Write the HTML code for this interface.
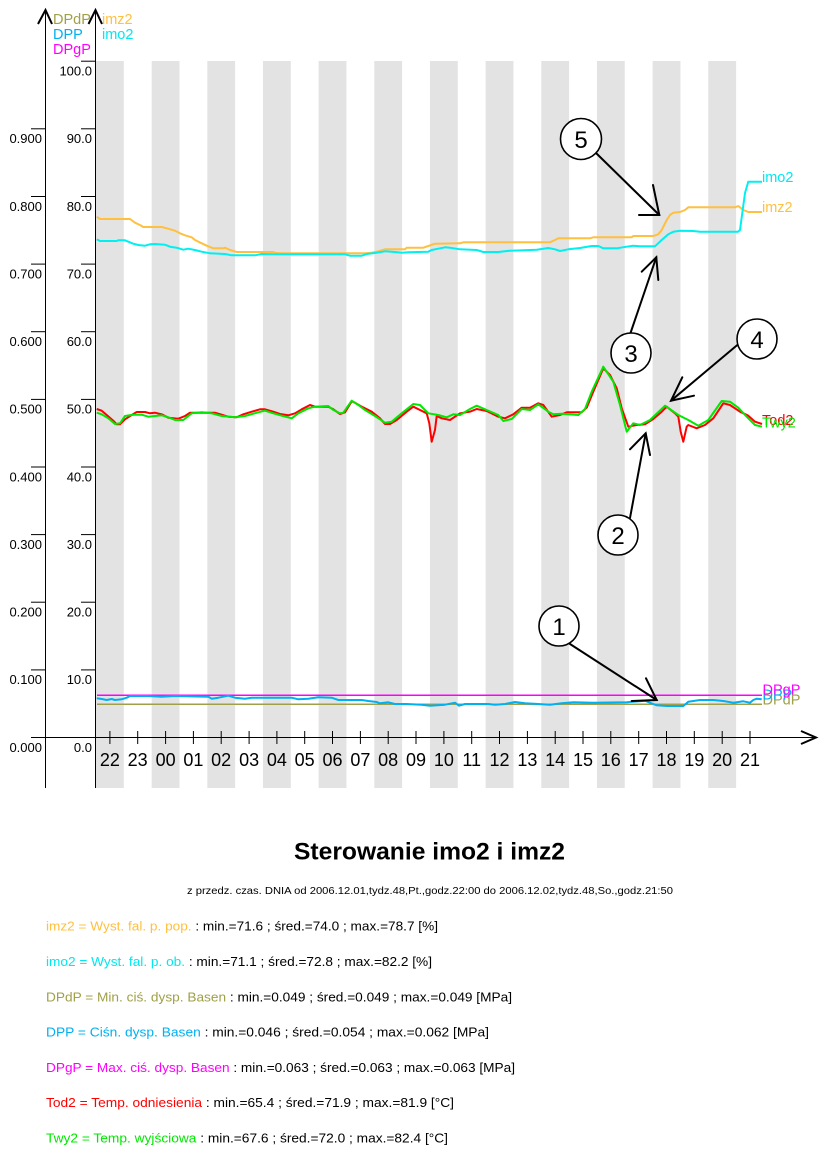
<!DOCTYPE html>
<html>
<head>
<meta charset="utf-8">
<style>
html,body{margin:0;padding:0;background:#fff;}
svg{display:block;}
text{font-family:"Liberation Sans",Arial,sans-serif;}
</style>
</head>
<body>
<svg width="826" height="1156" viewBox="0 0 826 1156" xmlns="http://www.w3.org/2000/svg">
<rect x="0" y="0" width="826" height="1156" fill="#fff"/>
<!-- stripes -->
<g fill="#e3e3e3">
<rect x="96" y="61" width="27.83" height="727"/>
<rect x="151.66" y="61" width="27.83" height="727"/>
<rect x="207.32" y="61" width="27.83" height="727"/>
<rect x="262.98" y="61" width="27.83" height="727"/>
<rect x="318.64" y="61" width="27.83" height="727"/>
<rect x="374.3" y="61" width="27.83" height="727"/>
<rect x="429.96" y="61" width="27.83" height="727"/>
<rect x="485.62" y="61" width="27.83" height="727"/>
<rect x="541.28" y="61" width="27.83" height="727"/>
<rect x="596.94" y="61" width="27.83" height="727"/>
<rect x="652.6" y="61" width="27.83" height="727"/>
<rect x="708.26" y="61" width="27.83" height="727"/>
</g>

<!-- axes -->
<g stroke="#000" stroke-width="1" fill="none">
<line x1="45.5" y1="10" x2="45.5" y2="788"/>
<line x1="95.5" y1="10" x2="95.5" y2="788"/>
<line x1="31" y1="737.5" x2="815" y2="737.5"/>
<!-- y ticks axis1 -->
<line x1="31" y1="669.9" x2="45" y2="669.9"/>
<line x1="31" y1="602.2" x2="45" y2="602.2"/>
<line x1="31" y1="534.6" x2="45" y2="534.6"/>
<line x1="31" y1="467" x2="45" y2="467"/>
<line x1="31" y1="399.4" x2="45" y2="399.4"/>
<line x1="31" y1="331.7" x2="45" y2="331.7"/>
<line x1="31" y1="264.1" x2="45" y2="264.1"/>
<line x1="31" y1="196.5" x2="45" y2="196.5"/>
<line x1="31" y1="128.8" x2="45" y2="128.8"/>
<!-- y ticks axis2 -->
<line x1="81" y1="669.9" x2="95" y2="669.9"/>
<line x1="81" y1="602.2" x2="95" y2="602.2"/>
<line x1="81" y1="534.6" x2="95" y2="534.6"/>
<line x1="81" y1="467" x2="95" y2="467"/>
<line x1="81" y1="399.4" x2="95" y2="399.4"/>
<line x1="81" y1="331.7" x2="95" y2="331.7"/>
<line x1="81" y1="264.1" x2="95" y2="264.1"/>
<line x1="81" y1="196.5" x2="95" y2="196.5"/>
<line x1="81" y1="128.8" x2="95" y2="128.8"/>
<line x1="81" y1="61.2" x2="95" y2="61.2"/>
<!-- x ticks -->
<line x1="109.9" y1="731" x2="109.9" y2="744"/>
<line x1="137.7" y1="731" x2="137.7" y2="744"/>
<line x1="165.6" y1="731" x2="165.6" y2="744"/>
<line x1="193.4" y1="731" x2="193.4" y2="744"/>
<line x1="221.2" y1="731" x2="221.2" y2="744"/>
<line x1="249.1" y1="731" x2="249.1" y2="744"/>
<line x1="276.9" y1="731" x2="276.9" y2="744"/>
<line x1="304.7" y1="731" x2="304.7" y2="744"/>
<line x1="332.5" y1="731" x2="332.5" y2="744"/>
<line x1="360.4" y1="731" x2="360.4" y2="744"/>
<line x1="388.2" y1="731" x2="388.2" y2="744"/>
<line x1="416" y1="731" x2="416" y2="744"/>
<line x1="443.9" y1="731" x2="443.9" y2="744"/>
<line x1="471.7" y1="731" x2="471.7" y2="744"/>
<line x1="499.5" y1="731" x2="499.5" y2="744"/>
<line x1="527.4" y1="731" x2="527.4" y2="744"/>
<line x1="555.2" y1="731" x2="555.2" y2="744"/>
<line x1="583" y1="731" x2="583" y2="744"/>
<line x1="610.8" y1="731" x2="610.8" y2="744"/>
<line x1="638.7" y1="731" x2="638.7" y2="744"/>
<line x1="666.5" y1="731" x2="666.5" y2="744"/>
<line x1="694.3" y1="731" x2="694.3" y2="744"/>
<line x1="722.2" y1="731" x2="722.2" y2="744"/>
<line x1="750" y1="731" x2="750" y2="744"/>
</g>
<g stroke="#000" stroke-width="2" fill="none" stroke-linejoin="miter">
<polyline points="38,24 45.5,10 52,24"/>
<polyline points="88.5,24 95.5,10 102,24"/>
<polyline points="801,731 816,737.5 801,744"/>
</g>

<!-- y labels -->
<g font-size="13" fill="#000" text-anchor="end">
<text x="42" y="751.8">0.000</text>
<text x="42" y="684.2">0.100</text>
<text x="42" y="616.5">0.200</text>
<text x="42" y="548.9">0.300</text>
<text x="42" y="481.3">0.400</text>
<text x="42" y="413.7">0.500</text>
<text x="42" y="346">0.600</text>
<text x="42" y="278.4">0.700</text>
<text x="42" y="210.8">0.800</text>
<text x="42" y="143.1">0.900</text>
<text x="92" y="751.8">0.0</text>
<text x="92" y="684.2">10.0</text>
<text x="92" y="616.5">20.0</text>
<text x="92" y="548.9">30.0</text>
<text x="92" y="481.3">40.0</text>
<text x="92" y="413.7">50.0</text>
<text x="92" y="346">60.0</text>
<text x="92" y="278.4">70.0</text>
<text x="92" y="210.8">80.0</text>
<text x="92" y="143.1">90.0</text>
<text x="92" y="75.5">100.0</text>
</g>

<!-- x labels -->
<g font-size="18" fill="#000" text-anchor="middle">
<text x="109.9" y="766">22</text>
<text x="137.7" y="766">23</text>
<text x="165.6" y="766">00</text>
<text x="193.4" y="766">01</text>
<text x="221.2" y="766">02</text>
<text x="249.1" y="766">03</text>
<text x="276.9" y="766">04</text>
<text x="304.7" y="766">05</text>
<text x="332.5" y="766">06</text>
<text x="360.4" y="766">07</text>
<text x="388.2" y="766">08</text>
<text x="416" y="766">09</text>
<text x="443.9" y="766">10</text>
<text x="471.7" y="766">11</text>
<text x="499.5" y="766">12</text>
<text x="527.4" y="766">13</text>
<text x="555.2" y="766">14</text>
<text x="583" y="766">15</text>
<text x="610.8" y="766">16</text>
<text x="638.7" y="766">17</text>
<text x="666.5" y="766">18</text>
<text x="694.3" y="766">19</text>
<text x="722.2" y="766">20</text>
<text x="750" y="766">21</text>
</g>

<!-- top legend -->
<g font-size="14.5">
<text x="53" y="24" fill="#a0a048">DPdP</text>
<text x="53" y="39" fill="#00b0f0">DPP</text>
<text x="53" y="54" fill="#ff00ff">DPgP</text>
<text x="102" y="24" fill="#ffc040">imz2</text>
<text x="102" y="39" fill="#00e8f0">imo2</text>
</g>

<!-- series -->
<g fill="none" stroke-width="2" stroke-linejoin="round">
<polyline stroke="#ffc040" points="96.7,216.7 100,219 130,219 135,222.7 140,225 143.3,227 161.7,227 166.7,228.3 175,230.7 180,233.3 185,235.3 191.7,237.3 195,240 201.7,243.3 206.7,245.7 213.3,248.3 223.3,248.3 225,247.7 230,250 236.7,252 273.3,252 275,252.7 280,253.3 365,253.3 371.7,252.7 378.3,251.3 385,249.3 405,249.3 406.7,247.7 423.3,247.7 428.3,246 435,243.7 460,243.3 463.3,242.3 550,242.3 555,240 558.3,238.3 590,238.3 593.3,237.3 631.7,237.3 633.3,236 653.3,236 658.3,234.3 661.7,230 666.7,220 670,215 673.3,212.7 680,212 685,210 688.3,207.3 735,207.3 738.3,206 743.3,210 748.3,212 762,212"/>
<polyline stroke="#00f0f0" points="96.7,239.3 100,241 116.7,241 118.3,240.3 125,240.3 128.3,241.7 133.3,243.7 138.3,245 145,245.7 150,244.3 155,244 165,244.7 170,246.7 176.7,247.7 183.3,249.7 188.3,248.7 195,250 201.7,251.7 210,253.3 225,254 231.7,255.3 255,255.3 261.7,254 275,254.3 345,254.3 350,255.7 361.7,255.7 366.7,254 375,253 385,251.3 395,252 401.7,252.7 408.3,252.3 428.3,251.7 431.7,250 438.3,248.7 445,247.3 450,247.7 460,249.3 476.7,250 483.3,252 498.3,252 510,250.7 536.7,249.7 548.3,248 555,249.3 560,251 568.3,249.3 580,248 591.7,246 598.3,246 603.3,248.3 616.7,248.3 626.7,246.7 633.3,245.7 640,246.3 655,246.3 661.7,240 668.3,234.3 673.3,231.7 680,230.7 693.3,231 700,231.7 738,231.7 740,230 745,193 748.3,181.7 762,181.7"/>
<polyline stroke="#ff0000" points="96.7,409 101.7,410.7 106.7,415 113.3,420.7 116.7,424.3 120,424.3 125,419.3 131.7,415 136.7,412 145,412 150,413.3 155,412.7 161.7,414.3 168.3,417.7 178.3,418.7 185,416 190,412.7 215,412.7 221.7,414.7 228.3,416.7 236.7,417.3 243.3,414.3 251.7,411.7 260,409.3 265,409.3 273.3,411.7 280,414 288.3,415.3 295,413.3 301.7,409.3 310,405 315,406.7 328.3,406.7 333.3,409.3 340,414 345,412.3 351.7,401.3 355,402.7 361.7,406.7 371.7,411.7 380,418.3 385,424 390,424 396.7,420 406.7,411.7 413.3,406.7 420,410 426.7,413.3 429.3,423.3 431.7,441.7 435,430 436.7,416 441.7,418.3 450,420 460,413.3 470,411.7 476.7,409 486.7,411 498.3,416.7 505,418.3 513.3,414.3 521.7,407.7 530,407.7 538.3,403.3 543.3,405 551.7,416.7 560,415 566.7,412.3 581.7,412.3 586.7,407.7 593.3,391.7 603.3,368.3 610,375 616.7,388.3 621.7,408.3 628.3,426.7 636.7,425 645,424.3 653.3,419 661.7,411.7 666.7,406.7 675,413.3 678.3,416.7 680.7,431.7 683.3,441.7 686.7,426.7 688.3,425 696.7,428.3 705,425 713.3,418.3 723.3,403.3 730,405 740,411.7 748.3,415.7 755,421.7 762,424"/>
<polyline stroke="#00e800" points="96.7,412.7 101.7,414.3 108.3,418.3 115,424 120,423.3 125,416 133.3,414.7 141.7,414.7 148.3,416.7 155,416 161.7,415.3 166.7,416.7 175,420 183.3,420 191.7,413.3 201.7,412.3 211.7,413.3 221.7,416 235,417.3 245,416 258.3,412.3 265,410.7 273.3,413.3 281.7,415.7 291.7,418.3 298.3,413.3 308.3,408.3 315,406.7 328.3,406 333.3,410 340,413.3 343.3,412.7 351.7,400.7 358.3,405 365,410 375,416 385,422.7 391.7,421.7 401.7,413.3 413.3,404 420,405 428.3,413.3 438.3,415 446.7,417.3 453.3,414.3 460,415 470,409 476.7,405.7 486.7,410 498.3,415 503.3,421 511.7,419 521.7,409 530,410 538.3,404.3 548.3,411.7 553.3,414.3 561.7,413.7 578.3,415 585,409 591.7,391.7 603.3,366.7 613.3,381.7 620,405 626.7,431.7 633.3,423.3 640,425 650,420 665,405.7 678.3,415 688.3,420 698.3,425.7 708.3,420 721.7,401 730,401.7 738.3,407.7 746.7,416.7 755,425 762,426.7"/>
<line x1="97" y1="704.3" x2="762" y2="704.3" stroke="#a0a048" stroke-width="1.5"/>
<line x1="97" y1="695.3" x2="762" y2="695.3" stroke="#ff00ff" stroke-width="1.5"/>
<polyline stroke="#00b0f0" points="96.7,698.3 101.7,699 106.7,700 111.7,699 115,700 121.7,699.3 126.7,697.7 130,696 148.3,696 161.7,696.7 175,696 208.3,696.7 211.7,698.7 218.3,697.7 228.3,695.7 235,697.7 245,698.7 251.7,697.7 291.7,697.7 298.3,699.3 308.3,698.7 318.3,697.3 331.7,697.7 338.3,700 361.7,700 368.3,701 376.7,702 380,703.3 388.3,702.3 395,704 406.7,704 421.7,704.7 430,705.7 445,704.7 455,702.7 459,705.7 465,704 488.3,704 495,704.7 505,704 515,702 525,703.3 538.3,704 550,704.7 561.7,703.3 573.3,702.3 593.3,702.7 626.7,702.3 645,700.7 650,702.7 656.7,705.3 666.7,706 683.3,706 688.3,701.7 700,700 713.3,700 723.3,701 733.3,702.7 743.3,701.3 750,702.7 753.3,700 756.7,698.7 761.7,699.3"/>
</g>

<!-- right labels -->
<g font-size="14.5">
<text x="762" y="182" fill="#00e8f0">imo2</text>
<text x="762" y="212" fill="#ffc040">imz2</text>
<text x="762" y="425" fill="#ff0000">Tod2</text>
<text x="762" y="427.5" fill="#00e800">Twy2</text>
<text x="762.5" y="704.5" fill="#a0a048">DPdP</text>
<text x="762.5" y="699.5" fill="#00b0f0">DPP</text>
<text x="762.5" y="694.5" fill="#ff00ff">DPgP</text>
</g>

<!-- callouts -->
<g stroke="#000" stroke-width="2" fill="none" stroke-linecap="round">
<line x1="596.5" y1="153.5" x2="659.3" y2="215"/>
<polyline points="653,185 659.3,215 639,215"/>
<line x1="630.5" y1="333" x2="656.3" y2="257.3"/>
<polyline points="641.7,271.7 656.3,257.3 658.3,280"/>
<line x1="738.5" y1="344" x2="671" y2="400.7"/>
<polyline points="682.3,377.3 671,400.7 694,395.7"/>
<line x1="630" y1="518" x2="645.7" y2="433.3"/>
<polyline points="630,449.3 645.7,433.3 650,455"/>
<line x1="570" y1="644" x2="656.7" y2="700"/>
<polyline points="646,678.3 656.7,700 631.7,701"/>
</g>
<g stroke="#000" stroke-width="1.6" fill="#fff">
<circle cx="581" cy="139" r="20.5"/>
<circle cx="631" cy="353" r="20"/>
<circle cx="757" cy="339" r="20"/>
<circle cx="618" cy="535" r="20"/>
<circle cx="559" cy="626" r="20"/>
</g>
<g font-size="24" fill="#000" text-anchor="middle">
<text x="581" y="147.8">5</text>
<text x="631" y="361.8">3</text>
<text x="757" y="347.8">4</text>
<text x="618" y="543.8">2</text>
<text x="559" y="634.8">1</text>
</g>

<!-- title -->
<text x="429.5" y="859.5" font-size="24" font-weight="bold" text-anchor="middle" textLength="271" lengthAdjust="spacingAndGlyphs" fill="#000">Sterowanie imo2 i imz2</text>
<text x="187" y="894" font-size="10" textLength="486" lengthAdjust="spacingAndGlyphs" fill="#000">z przedz. czas. DNIA od 2006.12.01,tydz.48,Pt.,godz.22:00 do 2006.12.02,tydz.48,So.,godz.21:50</text>

<!-- legend lines -->
<g font-size="12.5" fill="#000">
<text x="46" y="930.7" textLength="392" lengthAdjust="spacingAndGlyphs"><tspan fill="#ffc040">imz2 = Wyst. fal. p. pop.</tspan> : min.=71.6 ; śred.=74.0 ; max.=78.7 [%]</text>
<text x="46" y="966" textLength="386" lengthAdjust="spacingAndGlyphs"><tspan fill="#00e8f0">imo2 = Wyst. fal. p. ob.</tspan> : min.=71.1 ; śred.=72.8 ; max.=82.2 [%]</text>
<text x="46" y="1001.3" textLength="466" lengthAdjust="spacingAndGlyphs"><tspan fill="#a0a048">DPdP = Min. ciś. dysp. Basen</tspan> : min.=0.049 ; śred.=0.049 ; max.=0.049 [MPa]</text>
<text x="46" y="1036.6" textLength="443" lengthAdjust="spacingAndGlyphs"><tspan fill="#00b0f0">DPP = Ciśn. dysp. Basen</tspan> : min.=0.046 ; śred.=0.054 ; max.=0.062 [MPa]</text>
<text x="46" y="1071.9" textLength="469" lengthAdjust="spacingAndGlyphs"><tspan fill="#ff00ff">DPgP = Max. ciś. dysp. Basen</tspan> : min.=0.063 ; śred.=0.063 ; max.=0.063 [MPa]</text>
<text x="46" y="1107.2" textLength="408" lengthAdjust="spacingAndGlyphs"><tspan fill="#ff0000">Tod2 = Temp. odniesienia</tspan> : min.=65.4 ; śred.=71.9 ; max.=81.9 [°C]</text>
<text x="46" y="1142.5" textLength="402" lengthAdjust="spacingAndGlyphs"><tspan fill="#00e800">Twy2 = Temp. wyjściowa</tspan> : min.=67.6 ; śred.=72.0 ; max.=82.4 [°C]</text>
</g>
</svg>
</body>
</html>
